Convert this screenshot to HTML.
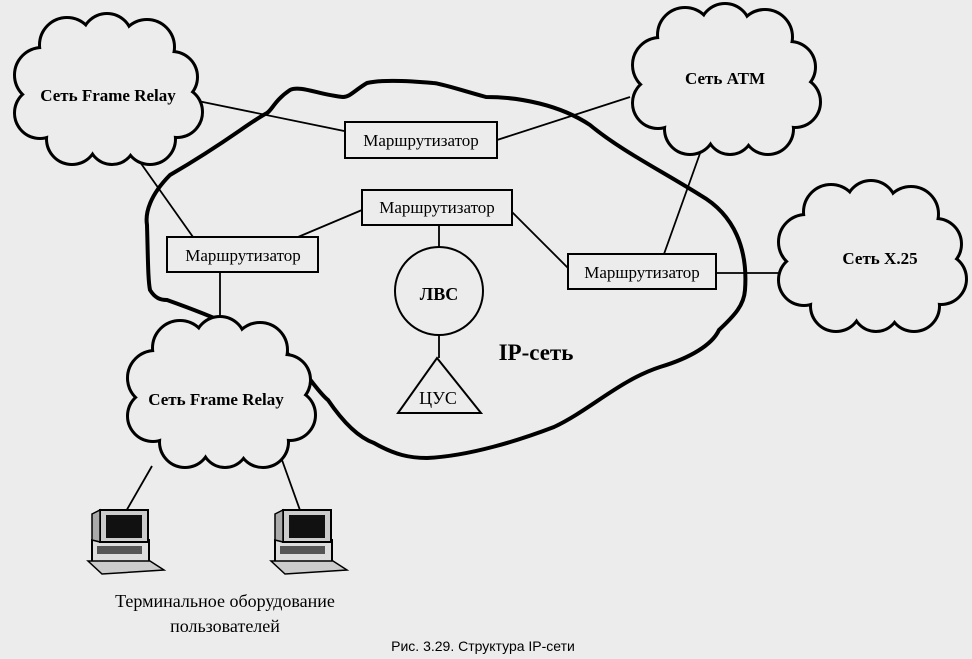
<!DOCTYPE html>
<html><head><meta charset="utf-8"><style>
html,body{margin:0;padding:0;background:#ececec;}
svg{display:block;}
.s{font-family:"Liberation Serif",serif;}
</style></head><body>
<svg width="972" height="659" viewBox="0 0 972 659" xmlns="http://www.w3.org/2000/svg">
<defs>
<g id="cl">
<g fill="none" stroke="#000" stroke-width="6">
<circle cx="30" cy="60" r="26"/><circle cx="55" cy="30" r="26"/><circle cx="95" cy="24" r="24"/><circle cx="135" cy="32" r="26"/><circle cx="160" cy="62" r="24"/><circle cx="165" cy="97" r="24"/><circle cx="138" cy="124" r="24"/><circle cx="100" cy="126" r="22"/><circle cx="60" cy="124" r="24"/><circle cx="28" cy="98" r="24"/>
</g>
<g fill="#ececec">
<circle cx="30" cy="60" r="26"/><circle cx="55" cy="30" r="26"/><circle cx="95" cy="24" r="24"/><circle cx="135" cy="32" r="26"/><circle cx="160" cy="62" r="24"/><circle cx="165" cy="97" r="24"/><circle cx="138" cy="124" r="24"/><circle cx="100" cy="126" r="22"/><circle cx="60" cy="124" r="24"/><circle cx="28" cy="98" r="24"/>
<ellipse cx="95" cy="78" rx="75" ry="58"/>
</g>
</g>
<g id="pc">
<rect x="0" y="28" width="57" height="22" fill="#ddd" stroke="#000" stroke-width="2"/>
<rect x="5" y="34" width="45" height="8" fill="#555"/>
<path d="M-4 49 L58 49 L72 58 L10 62 Z" fill="#ccc" stroke="#000" stroke-width="1.5"/>
<rect x="8" y="-2" width="48" height="32" fill="#ccc" stroke="#000" stroke-width="2"/>
<path d="M0 2 L8 -2 L8 30 L0 28 Z" fill="#aaa" stroke="#000" stroke-width="1.5"/>
<rect x="14" y="3" width="36" height="23" fill="#111"/>
</g>
</defs>

<path d="M745,290 C748,250 735,215 700,195 C660,170 620,150 590,125 C560,105 520,97 486,97 C460,90 440,83 433,83 C400,80 380,80 367,83 C355,90 350,97 343,97 C320,95 300,85 290,90 C275,100 272,110 267,113 C245,125 230,140 170,175 C150,195 145,213 147,225 C148,260 148,280 150,290 C155,298 160,300 167,300 C195,310 215,318 230,325 C255,335 265,340 274,343 C300,360 315,390 328,400 C345,425 360,438 374,443 C395,455 410,458 427,458 C470,456 520,440 554,427 C590,410 620,380 660,367 C690,358 712,345 719,330 C735,315 744,305 745,290 Z" fill="none" stroke="#000" stroke-width="4"/>

<g stroke="#000" stroke-width="1.8" fill="none">
<line x1="193" y1="100" x2="349" y2="132"/>
<line x1="630" y1="97" x2="497" y2="140"/>
<line x1="135" y1="155" x2="193" y2="237"/>
<line x1="298" y1="237" x2="362" y2="210"/>
<line x1="512" y1="212" x2="568" y2="268"/>
<line x1="664" y1="254" x2="703" y2="145"/>
<line x1="716" y1="273" x2="778" y2="273"/>
<line x1="220" y1="272" x2="220" y2="322"/>
<line x1="439" y1="225" x2="439" y2="247"/>
<line x1="439" y1="335" x2="439" y2="358"/>
<line x1="152" y1="466" x2="125" y2="513"/>
<line x1="282" y1="460" x2="301" y2="513"/>
</g>

<use href="#cl" x="12" y="15"/>
<use href="#cl" x="630" y="5"/>
<use href="#cl" x="776" y="182"/>
<use href="#cl" x="125" y="318"/>

<g class="s" font-weight="bold" font-size="17" text-anchor="middle">
<text x="108" y="101">Сеть Frame Relay</text>
<text x="725" y="84">Сеть ATM</text>
<text x="880" y="264">Сеть X.25</text>
<text x="216" y="405">Сеть Frame Relay</text>
</g>

<g fill="#ececec" stroke="#000" stroke-width="2">
<rect x="345" y="122" width="152" height="36"/>
<rect x="362" y="190" width="150" height="35"/>
<rect x="167" y="237" width="151" height="35"/>
<rect x="568" y="254" width="148" height="35"/>
<circle cx="439" cy="291" r="44"/>
<path d="M437,358 L481,413 L398,413 Z"/>
</g>
<g class="s" font-size="17" text-anchor="middle">
<text x="421" y="146">Маршрутизатор</text>
<text x="437" y="213">Маршрутизатор</text>
<text x="243" y="261">Маршрутизатор</text>
<text x="642" y="278">Маршрутизатор</text>
<text x="439" y="300" font-weight="bold" font-size="18">ЛВС</text>
<text x="438" y="404" font-size="18">ЦУС</text>
<text x="536" y="360" font-weight="bold" font-size="23">IP-сеть</text>
<text x="225" y="607" font-size="18">Терминальное оборудование</text>
<text x="225" y="632" font-size="18">пользователей</text>
</g>
<use href="#pc" x="92" y="512"/>
<use href="#pc" x="275" y="512"/>
<text x="483" y="651" font-family="Liberation Sans, sans-serif" font-size="14" text-anchor="middle">Рис. 3.29. Структура IP-сети</text>
</svg>
</body></html>
